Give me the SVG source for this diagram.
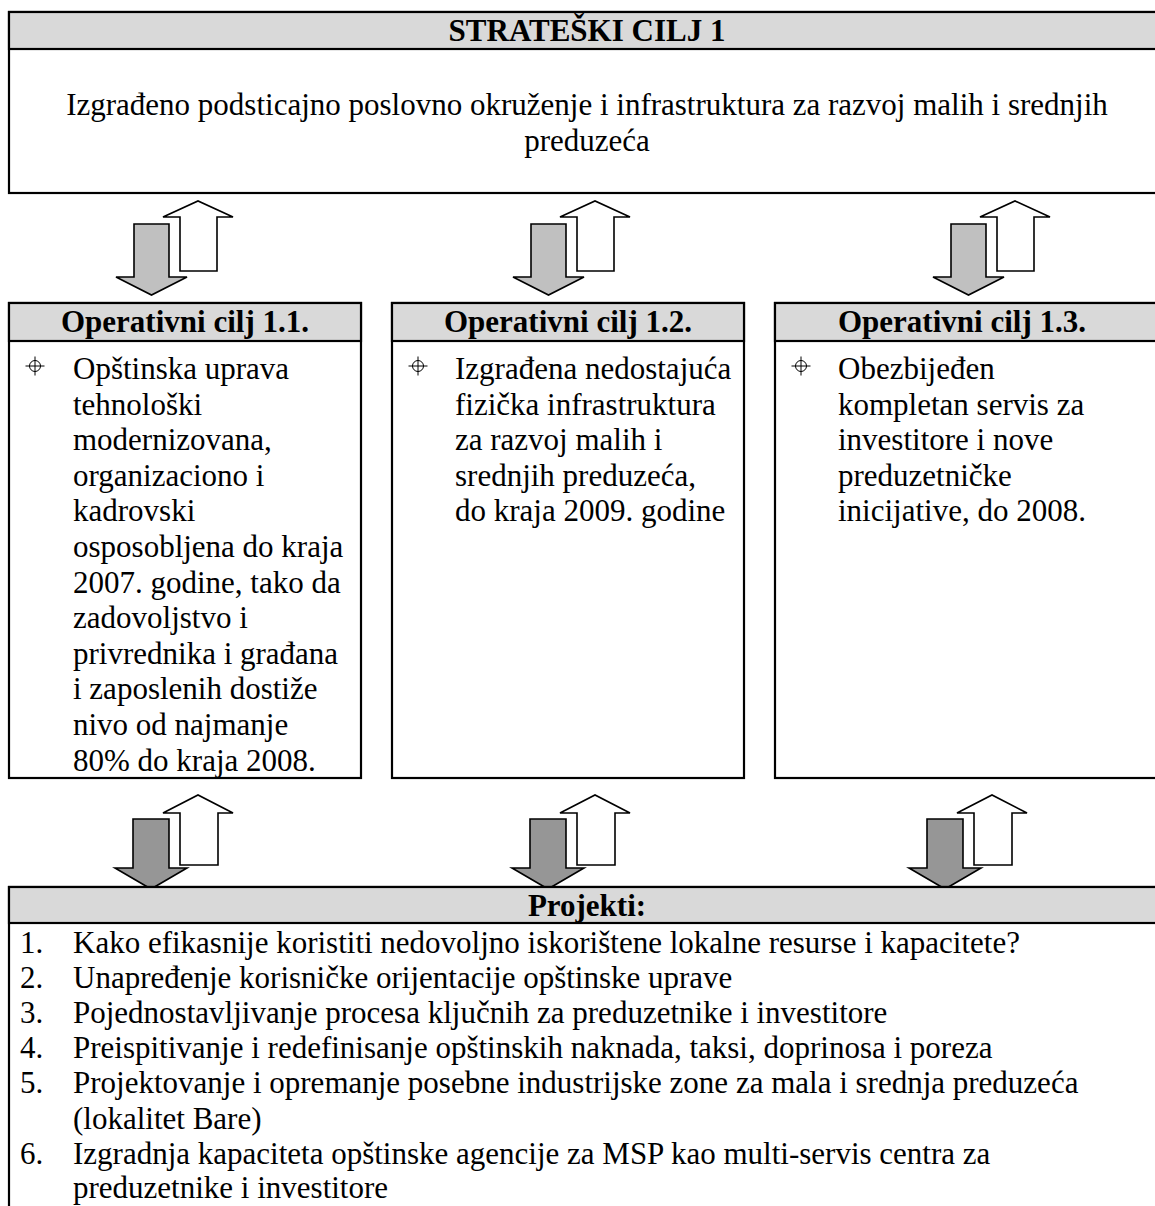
<svg xmlns="http://www.w3.org/2000/svg" width="1155" height="1206" viewBox="0 0 1155 1206">
<style>
.box{fill:#fff;stroke:#000;stroke-width:2.2}
.hdr{fill:#d9d9d9;stroke:#000;stroke-width:2.2}
.t{font-family:"Liberation Serif","Times New Roman",serif;font-size:31px;fill:#000}
.b{font-weight:bold}
.c{text-anchor:middle}
.up{fill:#fff;stroke:#000;stroke-width:1.6;stroke-linejoin:miter}
.dn1{fill:#c0c0c0;stroke:#000;stroke-width:1.6}
.dn2{fill:#969696;stroke:#000;stroke-width:1.6}
.bul{fill:none;stroke:#000;stroke-width:1}
</style>
<defs>
<g id="bullet" class="bul">
<circle cx="0" cy="0" r="5.5"/>
<line x1="-9.5" y1="0" x2="9.5" y2="0"/>
<line x1="0" y1="-9.5" x2="0" y2="9.5"/>
</g>
<polygon id="upTop" points="180,271 180,217 163,217 198,201 233,217 217,217 217,271"/>
<polygon id="dnTop" points="134,224 169,224 169,277 187,277 151.5,295 116,277 134,277"/>
<polygon id="upBot" points="180,865 180,813 163,813 198,795 233,813 218,813 218,865"/>
<polygon id="dnBot" points="133,819 169,819 169,868 187,868 151,889 115,868 133,868"/>
</defs>

<g id="strateski-cilj">
<rect class="box" x="9" y="12" width="1170" height="181"/>
<rect class="hdr" x="9" y="12" width="1170" height="37"/>
<text class="t b c" x="587" y="41">STRATEŠKI CILJ 1</text>
<text class="t c" x="587" y="115">Izgrađeno podsticajno poslovno okruženje i infrastruktura za razvoj malih i srednjih</text>
<text class="t c" x="587" y="151">preduzeća</text>
</g>

<g id="connectors">
<use href="#dnTop" class="dn1"/>
<use href="#upTop" class="up"/>
<use href="#dnTop" class="dn1" x="397"/>
<use href="#upTop" class="up" x="397"/>
<use href="#dnTop" class="dn1" x="817"/>
<use href="#upTop" class="up" x="817"/>
<use href="#dnBot" class="dn2"/>
<use href="#upBot" class="up"/>
<use href="#dnBot" class="dn2" x="397"/>
<use href="#upBot" class="up" x="397"/>
<use href="#dnBot" class="dn2" x="794"/>
<use href="#upBot" class="up" x="794"/>
</g>

<g id="operativni-cilj-1-1">
<rect class="box" x="9" y="303" width="352" height="475"/>
<rect class="hdr" x="9" y="303" width="352" height="38"/>
<text class="t b c" x="185" y="332">Operativni cilj 1.1.</text>
<use href="#bullet" x="35" y="366"/>
<text class="t" x="73" y="379">
<tspan x="73" dy="0">Opštinska uprava</tspan>
<tspan x="73" dy="35.6">tehnološki</tspan>
<tspan x="73" dy="35.6">modernizovana,</tspan>
<tspan x="73" dy="35.6">organizaciono i</tspan>
<tspan x="73" dy="35.6">kadrovski</tspan>
<tspan x="73" dy="35.6">osposobljena do kraja</tspan>
<tspan x="73" dy="35.6">2007. godine, tako da</tspan>
<tspan x="73" dy="35.6">zadovoljstvo i</tspan>
<tspan x="73" dy="35.6">privrednika i građana</tspan>
<tspan x="73" dy="35.6">i zaposlenih dostiže</tspan>
<tspan x="73" dy="35.6">nivo od najmanje</tspan>
<tspan x="73" dy="35.6">80% do kraja 2008.</tspan>
</text>
</g>

<g id="operativni-cilj-1-2">
<rect class="box" x="392" y="303" width="352" height="475"/>
<rect class="hdr" x="392" y="303" width="352" height="38"/>
<text class="t b c" x="568" y="332">Operativni cilj 1.2.</text>
<use href="#bullet" x="418" y="366"/>
<text class="t" x="455" y="379">
<tspan x="455" dy="0">Izgrađena nedostajuća</tspan>
<tspan x="455" dy="35.6">fizička infrastruktura</tspan>
<tspan x="455" dy="35.6">za razvoj malih i</tspan>
<tspan x="455" dy="35.6">srednjih preduzeća,</tspan>
<tspan x="455" dy="35.6">do kraja 2009. godine</tspan>
</text>
</g>

<g id="operativni-cilj-1-3">
<rect class="box" x="775" y="303" width="400" height="475"/>
<rect class="hdr" x="775" y="303" width="400" height="38"/>
<text class="t b c" x="962" y="332">Operativni cilj 1.3.</text>
<use href="#bullet" x="801" y="366"/>
<text class="t" x="838" y="379">
<tspan x="838" dy="0">Obezbijeđen</tspan>
<tspan x="838" dy="35.6">kompletan servis za</tspan>
<tspan x="838" dy="35.6">investitore i nove</tspan>
<tspan x="838" dy="35.6">preduzetničke</tspan>
<tspan x="838" dy="35.6">inicijative, do 2008.</tspan>
</text>
</g>

<g id="projekti">
<rect class="box" x="9" y="887" width="1170" height="340"/>
<rect class="hdr" x="9" y="887" width="1170" height="36"/>
<text class="t b c" x="587" y="916">Projekti:</text>
<text class="t">
<tspan x="20" y="953">1.</tspan><tspan x="73" y="953">Kako efikasnije koristiti nedovoljno iskorištene lokalne resurse i kapacitete?</tspan>
<tspan x="20" y="988.1">2.</tspan><tspan x="73" y="988.1">Unapređenje korisničke orijentacije opštinske uprave</tspan>
<tspan x="20" y="1023.2">3.</tspan><tspan x="73" y="1023.2">Pojednostavljivanje procesa ključnih za preduzetnike i investitore</tspan>
<tspan x="20" y="1058.3">4.</tspan><tspan x="73" y="1058.3">Preispitivanje i redefinisanje opštinskih naknada, taksi, doprinosa i poreza</tspan>
<tspan x="20" y="1093.4">5.</tspan><tspan x="73" y="1093.4">Projektovanje i opremanje posebne industrijske zone za mala i srednja preduzeća</tspan>
<tspan x="73" y="1128.5">(lokalitet Bare)</tspan>
<tspan x="20" y="1163.6">6.</tspan><tspan x="73" y="1163.6">Izgradnja kapaciteta opštinske agencije za MSP kao multi-servis centra za</tspan>
<tspan x="73" y="1198">preduzetnike i investitore</tspan>
</text>
</g>
</svg>
